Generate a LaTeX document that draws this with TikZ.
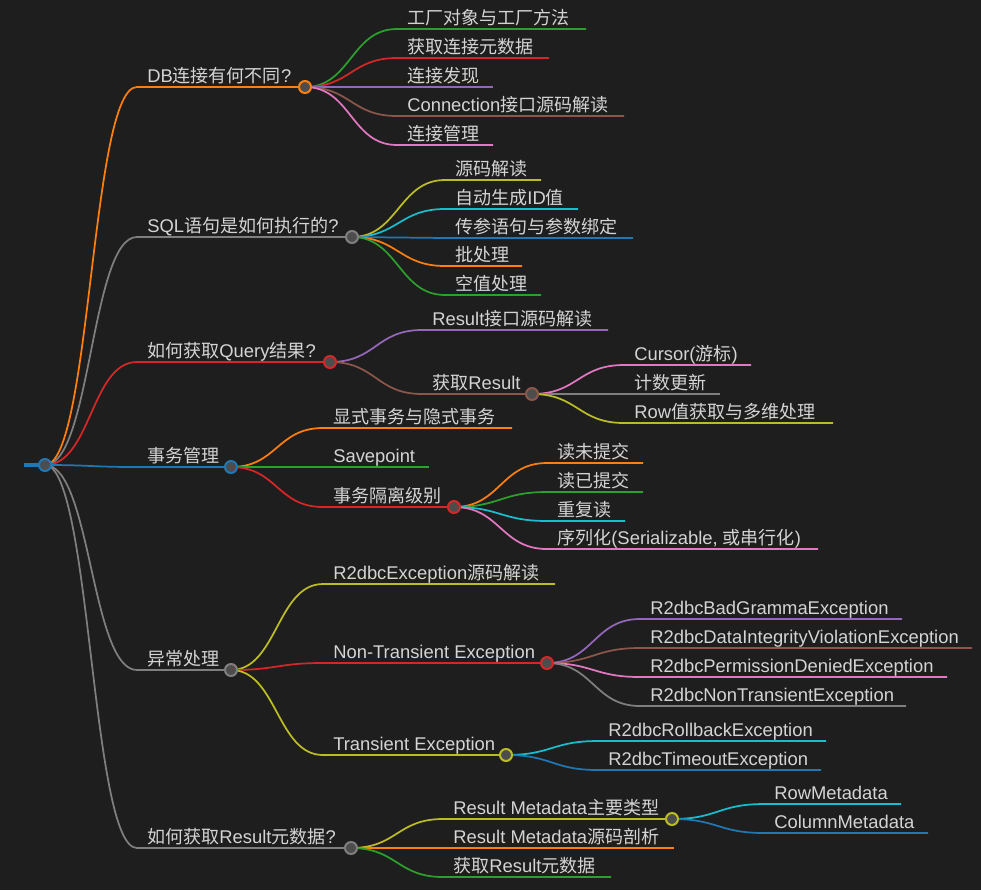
\documentclass[tikz,border=0pt]{standalone}
\usepackage{fontspec}
\setmainfont{Liberation Sans}
\newfontfamily\zhfont[Scale=0.98]{Noto Sans CJK SC}
\newcommand{\hz}[1]{{\zhfont #1}}
\usetikzlibrary{positioning}
\definecolor{bgC}{HTML}{1E1E1E}
\definecolor{txtC}{HTML}{D4D4D4}
\definecolor{dotC}{HTML}{4D4D4D}
\definecolor{bluC}{HTML}{1F77B4}
\definecolor{orgC}{HTML}{FF7F0E}
\definecolor{grnC}{HTML}{2CA02C}
\definecolor{redC}{HTML}{D62728}
\definecolor{purC}{HTML}{9467BD}
\definecolor{brnC}{HTML}{8C564B}
\definecolor{pnkC}{HTML}{E377C2}
\definecolor{gryC}{HTML}{7F7F7F}
\definecolor{olvC}{HTML}{BCBD22}
\definecolor{cynC}{HTML}{17BECF}
\pgfdeclarelayer{bg}
\pgfsetlayers{bg,main}
\tikzset{
  txt/.style={anchor=base west, inner sep=0pt, text=txtC,
    font=\fontsize{13.8}{16}\selectfont},
  knob/.style={circle, draw=#1, line width=1.5pt, fill=dotC,
    minimum size=9pt, inner sep=0pt},
  link/.style={draw=#1, line width=1.3pt},
  elbow/.style={to path={.. controls +(46,0) and +(-46,0) .. (\tikztotarget)}}
}

\begin{document}
\begin{tikzpicture}[x=0.75pt, y=-0.75pt]
  \useasboundingbox (0,0) rectangle (981,890);
  % root
  \node[knob=bluC] (root) at (45,465) {};
  \coordinate (stub) at (24,465);
  % first level
  \node[txt] (db) at (147,82) {DB\hz{连接有何不同}?};
  \coordinate (dbS) at (137,87);
  \node[knob=orgC] (dbC) at (305,87) {};
  \node[txt] (sql) at (147,232) {SQL\hz{语句是如何执行的}?};
  \coordinate (sqlS) at (137,237);
  \node[knob=gryC] (sqlC) at (352,237) {};
  \node[txt] (qry) at (147,357) {\hz{如何获取}Query\hz{结果}?};
  \coordinate (qryS) at (137,362);
  \node[knob=redC] (qryC) at (330,362) {};
  \node[txt] (tx) at (147,462) {\hz{事务管理}};
  \coordinate (txS) at (137,467);
  \node[knob=bluC] (txC) at (231,467) {};
  \node[txt] (exc) at (147,665) {\hz{异常处理}};
  \coordinate (excS) at (137,670);
  \node[knob=gryC] (excC) at (231,670) {};
  \node[txt] (meta) at (147,843) {\hz{如何获取}Result\hz{元数据}?};
  \coordinate (metaS) at (137,848);
  \node[knob=gryC] (metaC) at (351,848) {};

  % DB children
  \node[txt] (db1) at (407,24) {\hz{工厂对象与工厂方法}};
  \coordinate (db1S) at (397,29); \coordinate (db1E) at (586,29);
  \node[txt] (db2) at (407,53) {\hz{获取连接元数据}};
  \coordinate (db2S) at (397,58); \coordinate (db2E) at (549,58);
  \node[txt] (db3) at (407,82) {\hz{连接发现}};
  \coordinate (db3S) at (397,87); \coordinate (db3E) at (493,87);
  \node[txt] (db4) at (407,111) {Connection\hz{接口源码解读}};
  \coordinate (db4S) at (397,116); \coordinate (db4E) at (624,116);
  \node[txt] (db5) at (407,140) {\hz{连接管理}};
  \coordinate (db5S) at (397,145); \coordinate (db5E) at (493,145);

  % SQL children
  \node[txt] (sql1) at (455,175) {\hz{源码解读}};
  \coordinate (sql1S) at (445,180); \coordinate (sql1E) at (541,180);
  \node[txt] (sql2) at (455,204) {\hz{自动生成}ID\hz{值}};
  \coordinate (sql2S) at (445,209); \coordinate (sql2E) at (578,209);
  \node[txt] (sql3) at (455,233) {\hz{传参语句与参数绑定}};
  \coordinate (sql3S) at (445,238); \coordinate (sql3E) at (633,238);
  \node[txt] (sql4) at (455,261) {\hz{批处理}};
  \coordinate (sql4S) at (445,266); \coordinate (sql4E) at (522,266);
  \node[txt] (sql5) at (455,290) {\hz{空值处理}};
  \coordinate (sql5S) at (445,295); \coordinate (sql5E) at (541,295);

  % Query children
  \node[txt] (qry1) at (432,325) {Result\hz{接口源码解读}};
  \coordinate (qry1S) at (422,330); \coordinate (qry1E) at (608,330);
  \node[txt] (qry2) at (432,389) {\hz{获取}Result};
  \coordinate (qry2S) at (422,394);
  \node[knob=brnC] (qry2C) at (532,394) {};
  \node[txt] (res1) at (634,360) {Cursor(\hz{游标})};
  \coordinate (res1S) at (624,365); \coordinate (res1E) at (751,365);
  \node[txt] (res2) at (634,389) {\hz{计数更新}};
  \coordinate (res2S) at (624,394); \coordinate (res2E) at (720,394);
  \node[txt] (res3) at (634,418) {Row\hz{值获取与多维处理}};
  \coordinate (res3S) at (624,423); \coordinate (res3E) at (833,423);

  % transaction children
  \node[txt] (tx1) at (333,423) {\hz{显式事务与隐式事务}};
  \coordinate (tx1S) at (323,428); \coordinate (tx1E) at (512,428);
  \node[txt] (tx2) at (333,462) {Savepoint};
  \coordinate (tx2S) at (323,467); \coordinate (tx2E) at (429,467);
  \node[txt] (tx3) at (333,502) {\hz{事务隔离级别}};
  \coordinate (tx3S) at (323,507);
  \node[knob=redC] (tx3C) at (454,507) {};
  \node[txt] (iso1) at (557,458) {\hz{读未提交}};
  \coordinate (iso1S) at (547,463); \coordinate (iso1E) at (643,463);
  \node[txt] (iso2) at (557,487) {\hz{读已提交}};
  \coordinate (iso2S) at (547,492); \coordinate (iso2E) at (643,492);
  \node[txt] (iso3) at (557,516) {\hz{重复读}};
  \coordinate (iso3S) at (547,521); \coordinate (iso3E) at (625,521);
  \node[txt] (iso4) at (557,544) {\hz{序列化}(Serializable, \hz{或串行化})};
  \coordinate (iso4S) at (547,549); \coordinate (iso4E) at (818,549);

  % exception children
  \node[txt] (exc1) at (333,579) {R2dbcException\hz{源码解读}};
  \coordinate (exc1S) at (323,584); \coordinate (exc1E) at (555,584);
  \node[txt] (exc2) at (333,658) {Non-Transient Exception};
  \coordinate (exc2S) at (323,663);
  \node[knob=redC] (exc2C) at (547,663) {};
  \node[txt] (nt1) at (650,614) {R2dbcBadGrammaException};
  \coordinate (nt1S) at (640,619); \coordinate (nt1E) at (902,619);
  \node[txt] (nt2) at (650,643) {R2dbcDataIntegrityViolationException};
  \coordinate (nt2S) at (640,648); \coordinate (nt2E) at (972,648);
  \node[txt] (nt3) at (650,672) {R2dbcPermissionDeniedException};
  \coordinate (nt3S) at (640,677); \coordinate (nt3E) at (947,677);
  \node[txt] (nt4) at (650,701) {R2dbcNonTransientException};
  \coordinate (nt4S) at (640,706); \coordinate (nt4E) at (906,706);
  \node[txt] (exc3) at (333,750) {Transient Exception};
  \coordinate (exc3S) at (323,755);
  \node[knob=olvC] (exc3C) at (506,755) {};
  \node[txt] (tr1) at (608,736) {R2dbcRollbackException};
  \coordinate (tr1S) at (598,741); \coordinate (tr1E) at (826,741);
  \node[txt] (tr2) at (608,765) {R2dbcTimeoutException};
  \coordinate (tr2S) at (598,770); \coordinate (tr2E) at (821,770);

  % metadata children
  \node[txt] (meta1) at (453,814) {Result Metadata\hz{主要类型}};
  \coordinate (meta1S) at (443,819);
  \node[knob=olvC] (meta1C) at (672,819) {};
  \node[txt] (md1) at (774,799) {RowMetadata};
  \coordinate (md1S) at (764,804); \coordinate (md1E) at (901,804);
  \node[txt] (md2) at (774,828) {ColumnMetadata};
  \coordinate (md2S) at (764,833); \coordinate (md2E) at (928,833);
  \node[txt] (meta2) at (453,843) {Result Metadata\hz{源码剖析}};
  \coordinate (meta2S) at (443,848); \coordinate (meta2E) at (674,848);
  \node[txt] (meta3) at (453,872) {\hz{获取}Result\hz{元数据}};
  \coordinate (meta3S) at (443,877); \coordinate (meta3E) at (611,877);

  \begin{pgfonlayer}{bg}
    \fill[bgC] (0,0) rectangle (981,890);
    \draw[bluC, line width=3pt] (stub) -- (root.center);
    \draw[link=orgC] (root.center) to[elbow] (dbS) -- (dbC.center);
    \draw[link=gryC] (root.center) to[elbow] (sqlS) -- (sqlC.center);
    \draw[link=redC] (root.center) to[elbow] (qryS) -- (qryC.center);
    \draw[link=bluC] (root.center) to[elbow] (txS) -- (txC.center);
    \draw[link=gryC] (root.center) to[elbow] (excS) -- (excC.center);
    \draw[link=gryC] (root.center) to[elbow] (metaS) -- (metaC.center);

    \draw[link=grnC] (dbC.center) to[elbow] (db1S) -- (db1E);
    \draw[link=redC] (dbC.center) to[elbow] (db2S) -- (db2E);
    \draw[link=purC] (dbC.center) to[elbow] (db3S) -- (db3E);
    \draw[link=brnC] (dbC.center) to[elbow] (db4S) -- (db4E);
    \draw[link=pnkC] (dbC.center) to[elbow] (db5S) -- (db5E);

    \draw[link=olvC] (sqlC.center) to[elbow] (sql1S) -- (sql1E);
    \draw[link=cynC] (sqlC.center) to[elbow] (sql2S) -- (sql2E);
    \draw[link=bluC] (sqlC.center) to[elbow] (sql3S) -- (sql3E);
    \draw[link=orgC] (sqlC.center) to[elbow] (sql4S) -- (sql4E);
    \draw[link=grnC] (sqlC.center) to[elbow] (sql5S) -- (sql5E);

    \draw[link=purC] (qryC.center) to[elbow] (qry1S) -- (qry1E);
    \draw[link=brnC] (qryC.center) to[elbow] (qry2S) -- (qry2C.center);
    \draw[link=pnkC] (qry2C.center) to[elbow] (res1S) -- (res1E);
    \draw[link=gryC] (qry2C.center) to[elbow] (res2S) -- (res2E);
    \draw[link=olvC] (qry2C.center) to[elbow] (res3S) -- (res3E);

    \draw[link=orgC] (txC.center) to[elbow] (tx1S) -- (tx1E);
    \draw[link=grnC] (txC.center) to[elbow] (tx2S) -- (tx2E);
    \draw[link=redC] (txC.center) to[elbow] (tx3S) -- (tx3C.center);
    \draw[link=orgC] (tx3C.center) to[elbow] (iso1S) -- (iso1E);
    \draw[link=grnC] (tx3C.center) to[elbow] (iso2S) -- (iso2E);
    \draw[link=cynC] (tx3C.center) to[elbow] (iso3S) -- (iso3E);
    \draw[link=pnkC] (tx3C.center) to[elbow] (iso4S) -- (iso4E);

    \draw[link=olvC] (excC.center) to[elbow] (exc1S) -- (exc1E);
    \draw[link=redC] (excC.center) to[elbow] (exc2S) -- (exc2C.center);
    \draw[link=olvC] (excC.center) to[elbow] (exc3S) -- (exc3C.center);
    \draw[link=purC] (exc2C.center) to[elbow] (nt1S) -- (nt1E);
    \draw[link=brnC] (exc2C.center) to[elbow] (nt2S) -- (nt2E);
    \draw[link=pnkC] (exc2C.center) to[elbow] (nt3S) -- (nt3E);
    \draw[link=gryC] (exc2C.center) to[elbow] (nt4S) -- (nt4E);
    \draw[link=cynC] (exc3C.center) to[elbow] (tr1S) -- (tr1E);
    \draw[link=bluC] (exc3C.center) to[elbow] (tr2S) -- (tr2E);

    \draw[link=olvC] (metaC.center) to[elbow] (meta1S) -- (meta1C.center);
    \draw[link=orgC] (metaC.center) to[elbow] (meta2S) -- (meta2E);
    \draw[link=grnC] (metaC.center) to[elbow] (meta3S) -- (meta3E);
    \draw[link=cynC] (meta1C.center) to[elbow] (md1S) -- (md1E);
    \draw[link=bluC] (meta1C.center) to[elbow] (md2S) -- (md2E);
  \end{pgfonlayer}
\end{tikzpicture}
\end{document}
